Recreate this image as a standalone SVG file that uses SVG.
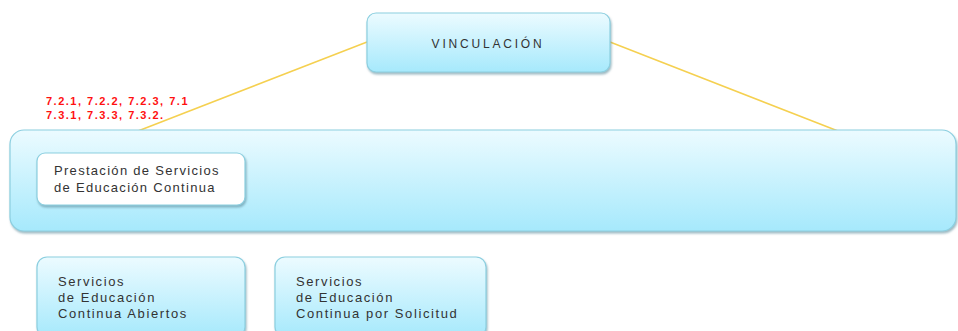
<svg xmlns="http://www.w3.org/2000/svg" width="958" height="331" viewBox="0 0 958 331">
<defs>
<linearGradient id="blue" x1="0" y1="0" x2="0" y2="1">
<stop offset="0" stop-color="#ecfbff"/>
<stop offset="1" stop-color="#a6e9fc"/>
</linearGradient>
<filter id="sh" x="-5%" y="-10%" width="110%" height="130%">
<feDropShadow dx="1" dy="2" stdDeviation="1" flood-color="#5a8a99" flood-opacity="0.6"/>
</filter>
</defs>
<style>
.box{fill:url(#blue);stroke:#8ccfe0;stroke-width:1.2;filter:url(#sh)}
.white{fill:#ffffff;stroke:#8ccfe0;stroke-width:1.2;filter:url(#sh)}
.t{font-family:"Liberation Sans",Arial,sans-serif;font-size:13px;fill:#333333;letter-spacing:1.6px}
.red{font-family:"Liberation Sans",Arial,sans-serif;font-size:11px;font-weight:bold;fill:#ff1010;letter-spacing:1.5px}
.ln{stroke:#f5d050;stroke-width:1.5;fill:none}
</style>
<rect width="958" height="331" fill="#ffffff"/>
<g id="connectors">
<line class="ln" x1="367" y1="42" x2="138" y2="131"/>
<line class="ln" x1="610" y1="42" x2="838" y2="131"/>
</g>
<g id="vinculacion">
<rect class="box" x="367" y="13" width="243" height="59" rx="9"/>
<text class="t" x="488" y="48" text-anchor="middle" style="font-size:12px;letter-spacing:2.8px">VINCULACIÓN</text>
</g>
<g id="refs">
<text class="red" x="46" y="105">7.2.1, 7.2.2, 7.2.3, 7.1</text>
<text class="red" x="46" y="119">7.3.1, 7.3.3, 7.3.2.</text>
</g>
<g id="container">
<rect class="box" x="10" y="130" width="946" height="101" rx="14"/>
</g>
<g id="prestacion">
<rect class="white" x="37" y="153" width="208" height="52" rx="8"/>
<text class="t" x="54" y="175" style="letter-spacing:1.3px">Prestación de Servicios</text>
<text class="t" x="54" y="192" style="letter-spacing:1.3px">de Educación Continua</text>
</g>
<g id="abiertos">
<rect class="box" x="37" y="257" width="208" height="80" rx="10"/>
<text class="t" x="58" y="286">Servicios</text>
<text class="t" x="58" y="302">de Educación</text>
<text class="t" x="58" y="318">Continua Abiertos</text>
</g>
<g id="solicitud">
<rect class="box" x="275" y="257" width="211" height="80" rx="10"/>
<text class="t" x="296" y="286">Servicios</text>
<text class="t" x="296" y="302">de Educación</text>
<text class="t" x="296" y="318">Continua por Solicitud</text>
</g>
</svg>
